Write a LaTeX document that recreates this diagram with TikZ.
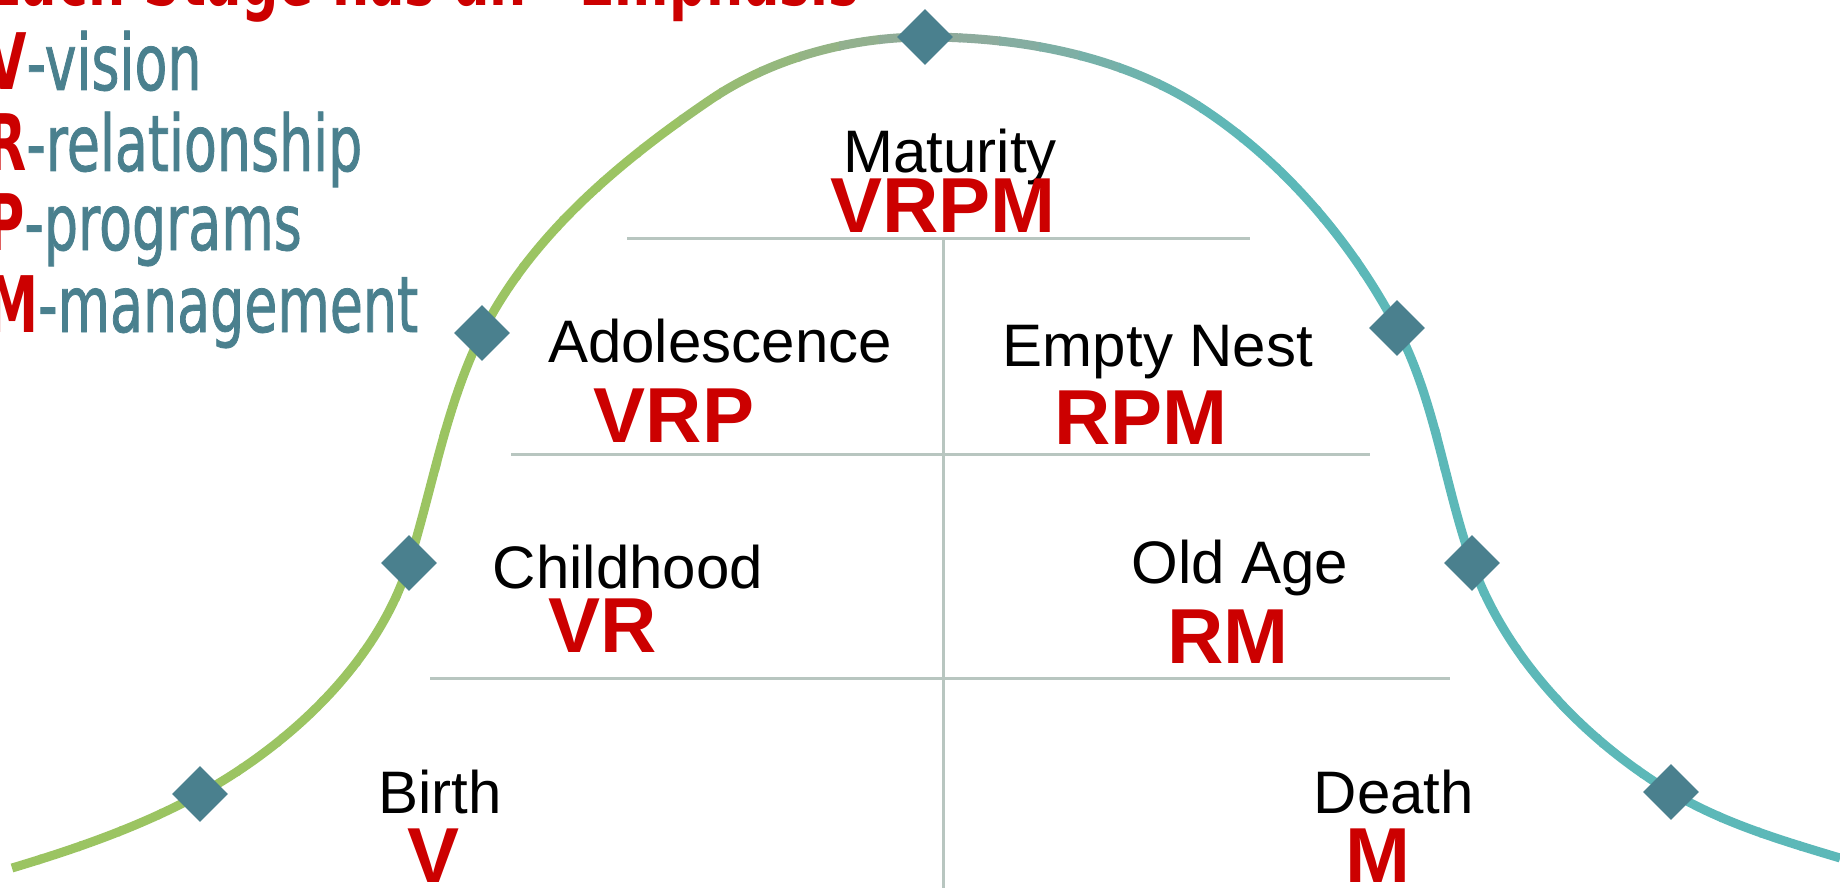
\documentclass[tikz,border=0pt]{standalone}
\usepackage{fontspec}
\setmainfont{Liberation Sans}
\newfontfamily\legfont[FakeStretch=0.67]{DejaVu Sans}
\newfontfamily\legtfont[FakeStretch=0.69,FakeBold=1]{DejaVu Sans}
\usetikzlibrary{shapes.geometric}
\definecolor{dkred}{RGB}{204,0,0}
\definecolor{legteal}{RGB}{74,128,142}
\definecolor{dia}{RGB}{74,128,142}
\definecolor{cgreen}{RGB}{155,196,98}
\definecolor{cgrey}{RGB}{143,170,155}
\definecolor{cteal}{RGB}{92,184,184}
\definecolor{gridc}{RGB}{184,198,192}
\begin{document}
\begin{tikzpicture}[x=1pt,y=-1pt,
 stage/.style={anchor=base,font=\fontsize{60}{72}\selectfont,text=black,inner sep=0pt},
 code/.style={anchor=base,font=\fontsize{78}{90}\selectfont\bfseries,text=dkred,inner sep=0pt},
 leg/.style={anchor=base west,inner sep=0pt,font=\fontsize{78}{90}\selectfont},
 gridline/.style={draw=gridc,line width=3pt},
 marker/.style={diamond,aspect=1,fill=dia,minimum width=56pt,minimum height=56pt,inner sep=0pt}]
\useasboundingbox (0,0) rectangle (1840,888);
\clip (0,0) rectangle (1840,888);
% grid
\draw[gridline] (627,238) -- (1250,238);
\draw[gridline] (511,454) -- (1370,454);
\draw[gridline] (430,678) -- (1450,678);
\draw[gridline] (943,238) -- (943,888);
% bell curve with colour gradient
\foreach \i in {0,...,46}{
  \pgfmathtruncatemacro\pl{max(0,min(100,(905-\i*40)/2.75))}
  \pgfmathtruncatemacro\pr{max(0,min(100,(\i*40-945)/2.75))}
  \colorlet{segtmp}{cgreen!\pl!cgrey}
  \colorlet{segc}{cteal!\pr!segtmp}
  \begin{scope}
    \clip (\i*40-1,-20) rectangle (\i*40+41,900);
    \draw[segc,line width=9pt] (12,868)
      .. controls (76.5,848.7) and (141,826.4) .. (200,794)
      .. controls (290.9,744) and (378.1,662) .. (409,563)
      .. controls (433,486.3) and (446.1,404.9) .. (482,333)
      .. controls (530.6,235.8) and (620.1,161.1) .. (710,100)
      .. controls (771.8,58) and (850.3,37) .. (925,37)
      .. controls (1019.6,37) and (1120.7,55.4) .. (1200,107)
      .. controls (1282.7,160.8) and (1351,240.7) .. (1397,328)
      .. controls (1435.3,400.7) and (1444.4,485.6) .. (1472,563)
      .. controls (1506,658.2) and (1584.4,740) .. (1671,792)
      .. controls (1722.8,823.1) and (1782,840.6) .. (1840,858);
  \end{scope}
}
% markers
\node[marker] (m1) at (200,794) {};
\node[marker] (m2) at (409,563) {};
\node[marker] (m3) at (482,333) {};
\node[marker] (m4) at (925,37) {};
\node[marker] (m5) at (1397,328) {};
\node[marker] (m6) at (1472,563) {};
\node[marker] (m7) at (1671,792) {};
% stages
\node[stage] (tMat) at (950,172) {Maturity};
\node[code] (cMat) at (943,232) {VRPM};
\node[stage] (tAdo) at (720,362) {Adolescence};
\node[code] (cAdo) at (674,442) {VRP};
\node[stage] (tEmp) at (1158,366) {Empty Nest};
\node[code] (cEmp) at (1141,444) {RPM};
\node[stage] (tChi) at (628,588) {Childhood};
\node[code] (cChi) at (603,652) {VR};
\node[stage] (tOld) at (1240,583) {Old Age};
\node[code] (cOld) at (1228,663) {RM};
\node[stage] (tBir) at (440,813) {Birth};
\node[code] (cBir) at (434,882) {V};
\node[stage] (tDea) at (1394,813) {Death};
\node[code] (cDea) at (1378,882) {M};
% legend
\node[leg,text=dkred] (title) at (-14,6) {\legfont\bfseries Each Stage has an “Emphasis”};
\node[leg] (lv) at (-14,90) {\textcolor{dkred}{\legfont\bfseries V}\textcolor{legteal}{\legtfont -vision}};
\node[leg] (lr) at (-14,171) {\textcolor{dkred}{\legfont\bfseries R}\textcolor{legteal}{\legtfont -relationship}};
\node[leg] (lp) at (-14,250) {\textcolor{dkred}{\legfont\bfseries P}\textcolor{legteal}{\legtfont -programs}};
\node[leg] (lm) at (-14,332) {\textcolor{dkred}{\legfont\bfseries M}\textcolor{legteal}{\legtfont -management}};
\end{tikzpicture}
\end{document}
